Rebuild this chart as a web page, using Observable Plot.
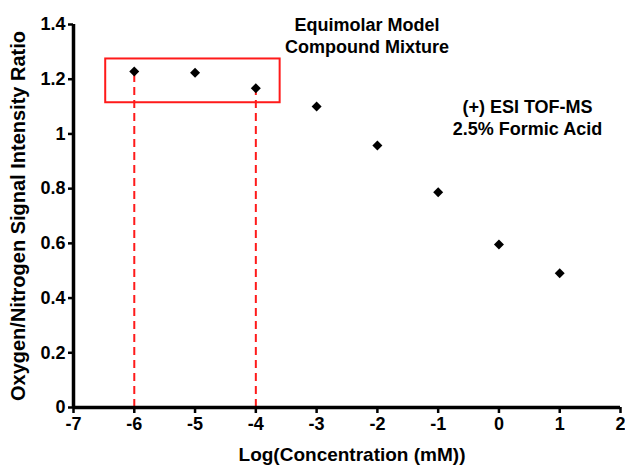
<!DOCTYPE html>
<html>
<head>
<meta charset="utf-8">
<script src="https://cdn.jsdelivr.net/npm/d3@7"></script>
<script src="https://cdn.jsdelivr.net/npm/@observablehq/plot@0.6"></script>
<style>
  html, body { margin: 0; padding: 0; background: #fff; }
</style>
</head>
<body>
<div id="chart"></div>
<script>
// Data
const logConc = [-6, -5, -4, -3, -2, -1, 0, 1];
const ratio   = [1.228, 1.224, 1.167, 1.100, 0.958, 0.787, 0.596, 0.491];

const xTicks = [-7, -6, -5, -4, -3, -2, -1, 0, 1, 2];
const yTicks = [0, 0.2, 0.4, 0.6, 0.8, 1, 1.2, 1.4];
const yTickLabels = ["0", "0.2", "0.4", "0.6", "0.8", "1", "1.2", "1.4"];

const highlightX = [-6, -4];
const boxX = [-6.47, -3.6];
const boxY = [1.114, 1.274];

const xLabel = "Log(Concentration (mM))";
const yLabel = "Oxygen/Nitrogen Signal Intensity Ratio";
const noteTexts = ["Equimolar Model\nCompound Mixture", "(+) ESI TOF-MS\n2.5% Formic Acid"];
const noteX = [-2.17, 0.47];
const noteY = [1.363, 1.062];

const points = logConc.map((x, i) => ({x, y: ratio[i]}));
const highlighted = points.filter(p => highlightX.includes(p.x));
const boxes = [{x1: boxX[0], x2: boxX[1], y1: boxY[0], y2: boxY[1]}];
const notes = noteTexts.map((t, i) => ({t, x: noteX[i], y: noteY[i]}));

const font = "'Liberation Sans', Arial, Helvetica, sans-serif";

const chart = Plot.plot({
  width: 625,
  height: 466,
  marginLeft: 73,
  marginRight: 5,
  marginTop: 24,
  marginBottom: 59,
  style: {fontFamily: font, fontWeight: "bold", background: "#fff", overflow: "visible"},
  x: {domain: [-7, 2]},
  y: {domain: [0, 1.4]},
  marks: [
    Plot.ruleX(highlighted, {x: "x", y1: 0, y2: "y", stroke: "#ff1a1a", strokeWidth: 2, strokeDasharray: "8,5"}),
    Plot.rect(boxes, {x1: "x1", x2: "x2", y1: "y1", y2: "y2", fill: "none", stroke: "#ff1a1a", strokeWidth: 2}),
    Plot.dot(points, {x: "x", y: "y", symbol: "diamond2", r: 4.5, fill: "#000", stroke: "none"}),
    Plot.axisX({ticks: xTicks, tickSize: 6, strokeWidth: 2.5, tickPadding: 4, fontSize: 18, fontWeight: "bold", label: null, tickFormat: d => String(d)}),
    Plot.axisY({ticks: yTicks, tickSize: 5, strokeWidth: 2.5, tickPadding: 3, fontSize: 18, fontWeight: "bold", label: null,
      tickFormat: d => yTickLabels[yTicks.findIndex(v => Math.abs(v - d) < 1e-9)]}),
    Plot.ruleY([0], {strokeWidth: 3.5}),
    Plot.ruleX([-7], {strokeWidth: 3.5}),
    Plot.text(notes, {x: "x", y: "y", text: "t", fontSize: 18, fontWeight: "bold", lineHeight: 1.22, lineAnchor: "middle", textAnchor: "middle", fill: "#000"}),
    Plot.text([xLabel], {frameAnchor: "bottom", dy: 47, dx: 5, lineAnchor: "middle", textAnchor: "middle", fontSize: 19, fontWeight: "bold", fill: "#000"}),
    Plot.text([yLabel], {frameAnchor: "left", rotate: -90, dx: -55, lineAnchor: "middle", textAnchor: "middle", fontSize: 20, fontWeight: "bold", fill: "#000"})
  ]
});
document.getElementById("chart").appendChild(chart);
</script>
</body>
</html>
